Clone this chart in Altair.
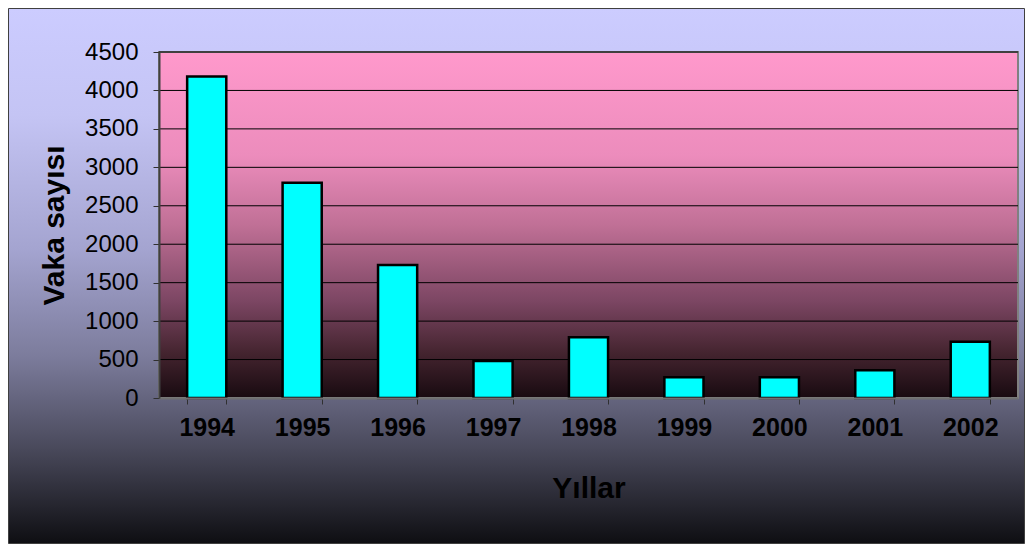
import altair as alt
import pandas as pd

years = ["1994", "1995", "1996", "1997", "1998", "1999", "2000", "2001", "2002"]
cases = [4180, 2800, 1730, 480, 790, 270, 270, 360, 730]
y_ticks = [0, 500, 1000, 1500, 2000, 2500, 3000, 3500, 4000, 4500]

W, H = 859, 346
PAD_L, PAD_T, PAD_R, PAD_B = 151, 44, 7, 146

df = pd.DataFrame({"Yıl": years, "Vaka": cases})
grid_df = pd.DataFrame({"Vaka": y_ticks[1:]})
one = pd.DataFrame({"k": [0]})

outer_grad = alt.LinearGradient(
    gradient="linear", x1=0, x2=0, y1=0, y2=1,
    stops=[
        alt.GradientStop(color="#ccccff", offset=0),
        alt.GradientStop(color="#c4c4f4", offset=0.2),
        alt.GradientStop(color="#a4a4d0", offset=0.45),
        alt.GradientStop(color="#7c7c9c", offset=0.65),
        alt.GradientStop(color="#4a4a5c", offset=0.82),
        alt.GradientStop(color="#0e0e12", offset=1),
    ],
)
plot_grad = alt.LinearGradient(
    gradient="linear", x1=0, x2=0, y1=0, y2=1,
    stops=[
        alt.GradientStop(color="#ff99cc", offset=0),
        alt.GradientStop(color="#ec8cbc", offset=0.3),
        alt.GradientStop(color="#c07096", offset=0.5),
        alt.GradientStop(color="#7c4663", offset=0.72),
        alt.GradientStop(color="#44242f", offset=0.87),
        alt.GradientStop(color="#180a10", offset=1),
    ],
)

outer_bg = alt.Chart(one).mark_rect(
    fill=outer_grad, stroke="#404040", strokeWidth=1
).encode(
    x=alt.value(-PAD_L + 0.5), x2=alt.value(W + PAD_R - 0.5),
    y=alt.value(-PAD_T + 0.5), y2=alt.value(H + PAD_B - 0.5),
)
plot_bg = alt.Chart(one).mark_rect(
    fill=plot_grad, stroke="#808080", strokeWidth=2
).encode(
    x=alt.value(0), x2=alt.value(W), y=alt.value(0), y2=alt.value(H),
)

y_scale = alt.Scale(domain=[0, 4500], nice=False)
x_scale = alt.Scale(paddingInner=0.59, paddingOuter=0.295)

y_axis = alt.Axis(
    title="Vaka sayısı", values=y_ticks, grid=False, format="d",
    labelFontSize=24, labelFont="Liberation Sans", labelColor="black",
    labelPadding=15, tickSize=6, tickColor="#303030",
    domainColor="#404040", domainWidth=2,
    titleFont="Liberation Sans", titleFontSize=30, titleFontWeight="bold",
    titleColor="black", titlePadding=15, zindex=1,
)

grid = alt.Chart(grid_df).mark_rule(color="black", strokeWidth=1).encode(
    y=alt.Y("Vaka:Q", scale=y_scale, axis=y_axis),
)

bars = alt.Chart(df).mark_bar(
    fill="#00ffff", stroke="black", strokeWidth=2.5
).encode(
    x=alt.X(
        "Yıl:N", sort=years, scale=x_scale,
        axis=alt.Axis(
            title="Yıllar", labelAngle=0, labelFontSize=25, labelFontWeight="bold",
            labelFont="Liberation Sans", labelColor="black", labelPadding=11,
            tickBand="extent", tickSize=6, tickColor="#303030",
            domainColor="#707070", domainWidth=2,
            titleFont="Liberation Sans", titleFontSize=30, titleFontWeight="bold",
            titleColor="black", titlePadding=33, zindex=1,
        ),
    ),
    y=alt.Y("Vaka:Q", scale=y_scale, axis=y_axis),
)

chart = alt.layer(outer_bg, plot_bg, grid, bars).properties(
    width=W, height=H,
    autosize=alt.AutoSizeParams(type="none"),
    padding={"left": PAD_L, "top": PAD_T, "right": PAD_R, "bottom": PAD_B},
).configure_view(strokeWidth=0)

chart.save("out.html", embed_options={"renderer": "svg", "actions": False})
